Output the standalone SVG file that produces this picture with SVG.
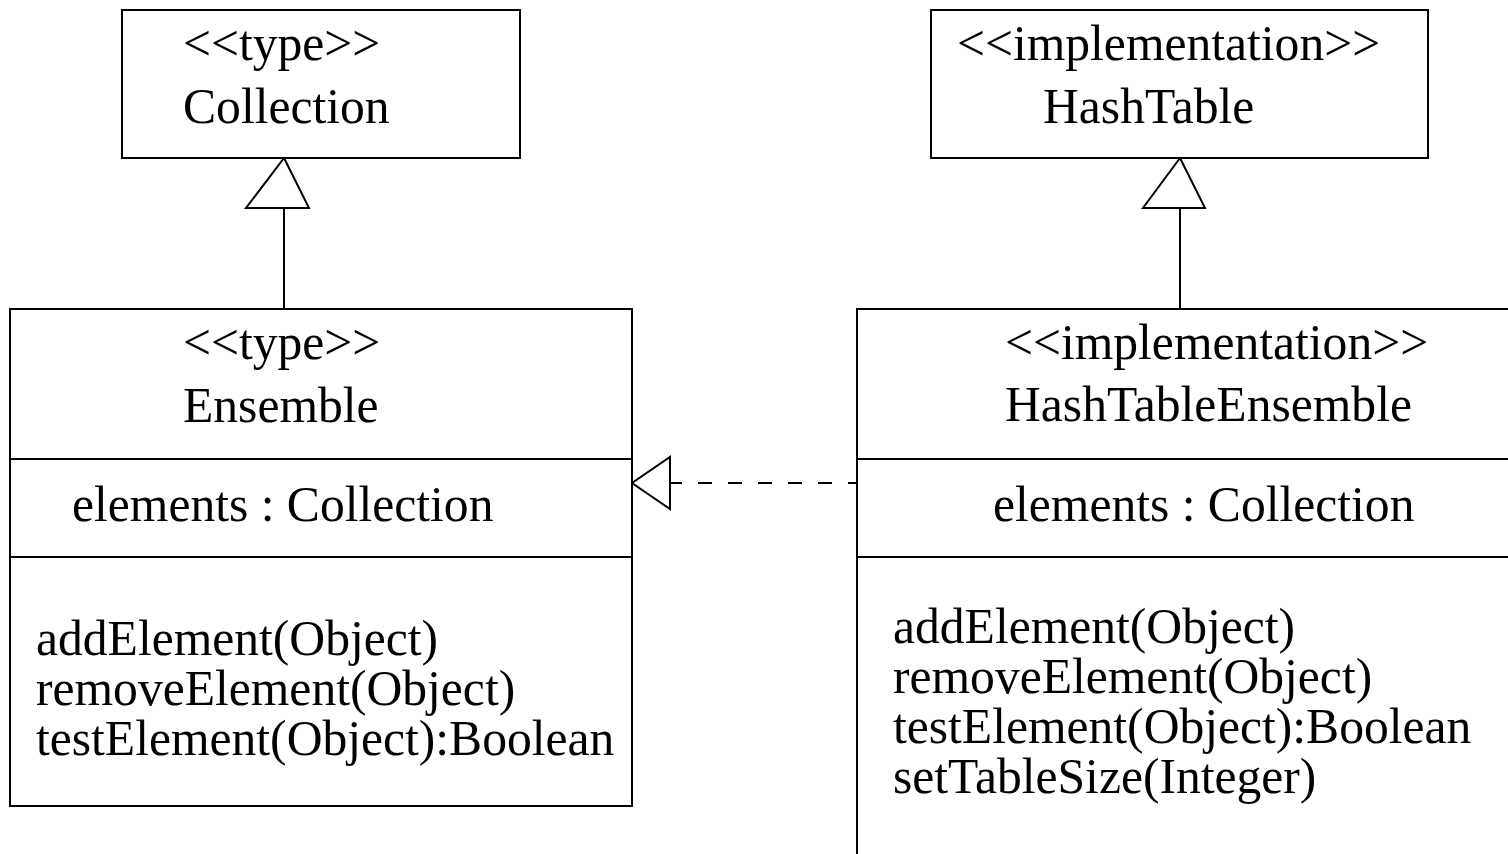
<svg xmlns="http://www.w3.org/2000/svg" width="1508" height="854" viewBox="0 0 1508 854">
<style>
  .box { fill: #ffffff; stroke: #000000; stroke-width: 2; }
  .div { stroke: #000000; stroke-width: 2; fill: none; }
  .t { font-family: "Liberation Serif", "Times New Roman", serif; font-size: 49.6px; fill: #000000; }
  .edge { stroke: #000000; stroke-width: 2; fill: none; }
  .dash { stroke-dasharray: 14 16; }
  .head { fill: #ffffff; stroke: #000000; stroke-width: 2; stroke-linejoin: miter; }
</style>
<rect width="1508" height="854" fill="#ffffff"/>

<g id="connectors">
  <line class="edge" x1="284" y1="208" x2="284" y2="309"/>
  <polygon class="head" points="284,158 246,208 309,208"/>
  <line class="edge" x1="1180" y1="208" x2="1180" y2="309"/>
  <polygon class="head" points="1180,158 1143,208 1205,208"/>
  <line class="edge dash" x1="668" y1="483" x2="857" y2="483"/>
  <polygon class="head" points="632,483 670,457 670,509"/>
</g>

<g id="collection">
  <rect class="box" x="122" y="10" width="398" height="148"/>
  <text class="t" x="183" y="60">&lt;&lt;type&gt;&gt;</text>
  <text class="t" x="183" y="123">Collection</text>
</g>

<g id="hashtable">
  <rect class="box" x="931" y="10" width="497" height="148"/>
  <text class="t" x="957" y="60">&lt;&lt;implementation&gt;&gt;</text>
  <text class="t" x="1043" y="123">HashTable</text>
</g>

<g id="ensemble">
  <rect class="box" x="10" y="309" width="622" height="497"/>
  <line class="div" x1="10" y1="459" x2="632" y2="459"/>
  <line class="div" x1="10" y1="557" x2="632" y2="557"/>
  <text class="t" x="183" y="359">&lt;&lt;type&gt;&gt;</text>
  <text class="t" x="183" y="422">Ensemble</text>
  <text class="t" x="72" y="521">elements : Collection</text>
  <text class="t" x="36" y="655">addElement(Object)</text>
  <text class="t" x="36" y="705">removeElement(Object)</text>
  <text class="t" x="36" y="755">testElement(Object):Boolean</text>
</g>

<g id="hashtableensemble">
  <rect class="box" x="857" y="309" width="680" height="580"/>
  <line class="div" x1="857" y1="459" x2="1537" y2="459"/>
  <line class="div" x1="857" y1="557" x2="1537" y2="557"/>
  <text class="t" x="1005" y="359">&lt;&lt;implementation&gt;&gt;</text>
  <text class="t" x="1005" y="421">HashTableEnsemble</text>
  <text class="t" x="993" y="521">elements : Collection</text>
  <text class="t" x="893" y="643">addElement(Object)</text>
  <text class="t" x="893" y="693">removeElement(Object)</text>
  <text class="t" x="893" y="743">testElement(Object):Boolean</text>
  <text class="t" x="893" y="793">setTableSize(Integer)</text>
</g>
</svg>
